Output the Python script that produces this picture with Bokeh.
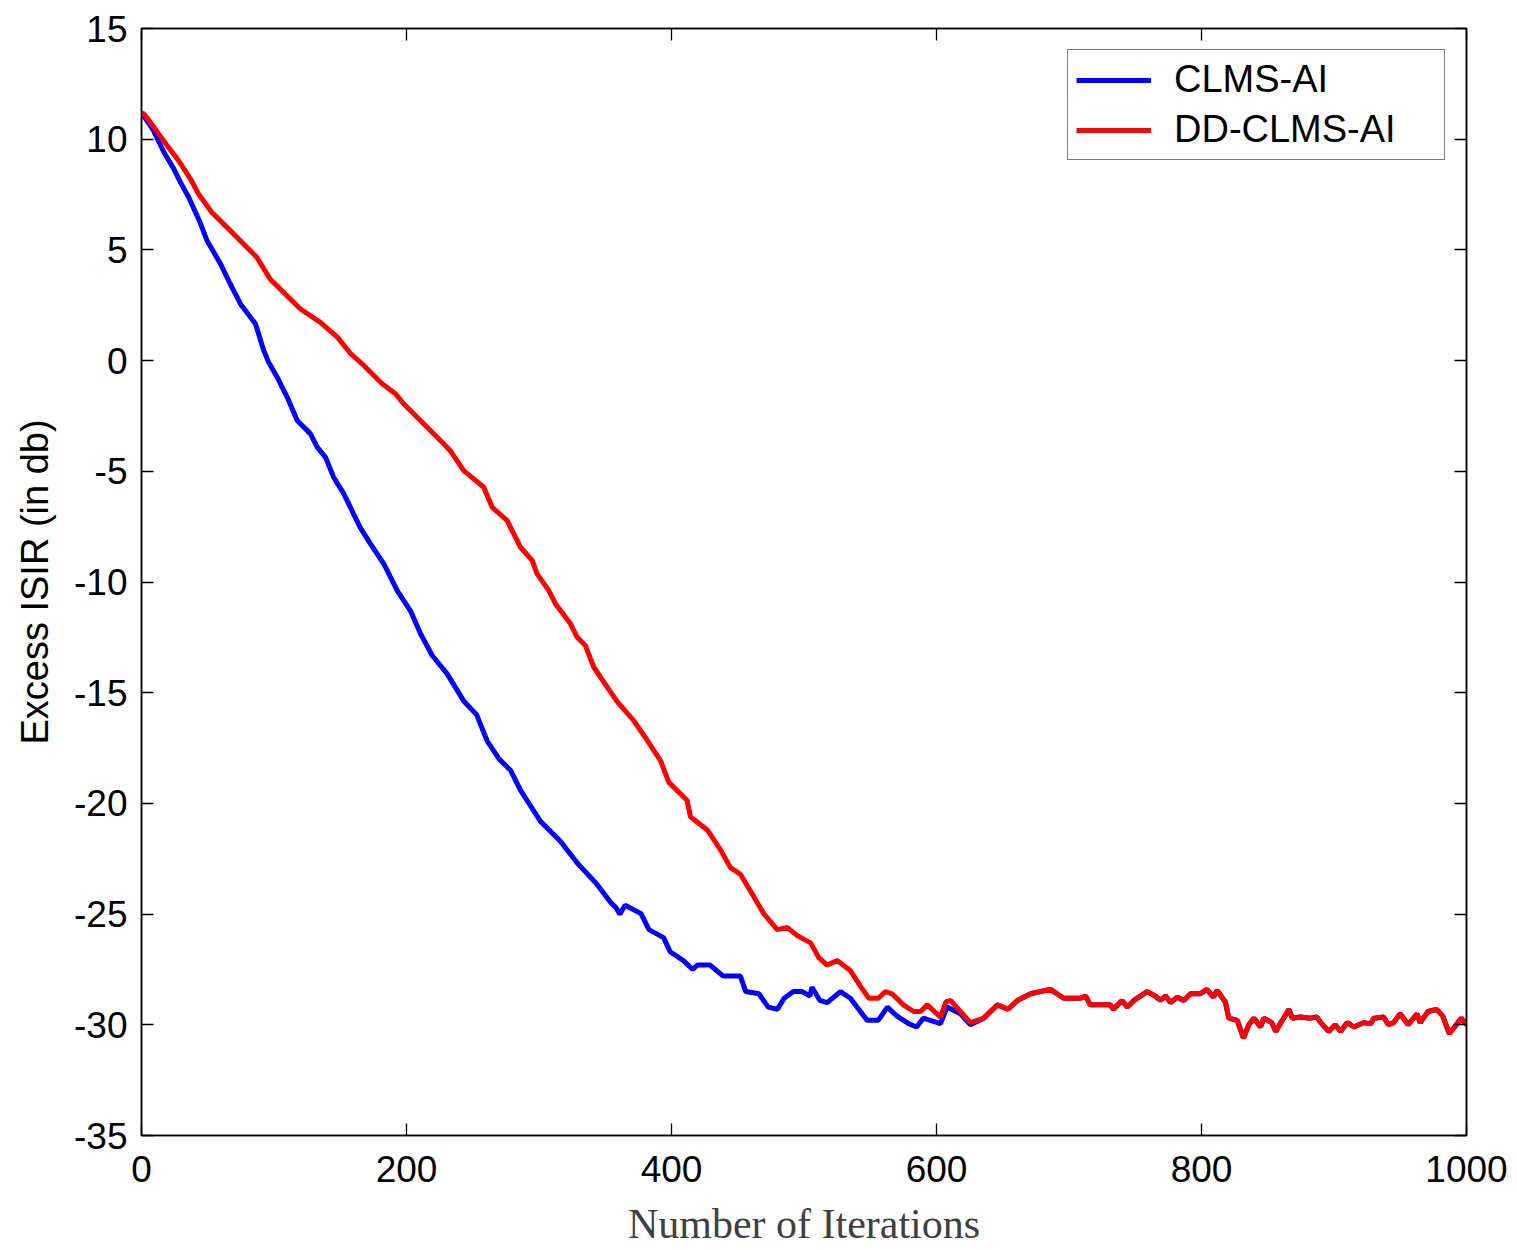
from bokeh.plotting import figure
from bokeh.models import Range1d, LinearAxis, FixedTicker, Legend, LegendItem
from bokeh.embed import file_html
from bokeh.resources import INLINE

# ---- data ----
# CLMS-AI (blue), transient part
clms_x = [0, 1.5, 9, 17, 24, 29.4, 35.6, 44.5, 49.6, 59.6, 67, 74.7, 86, 92.3, 96, 102.4,
          110, 117.5, 127.5, 132.6, 138.9, 145, 152.7, 165, 172.8, 182.9, 193, 203, 210.6,
          219.4, 230.7, 243, 253, 261, 270, 278.5, 286, 292, 301, 316, 329, 343, 354, 358,
          361, 365, 377, 383, 394, 399, 409, 416, 419.6, 429, 439, 452, 456, 466, 473, 480,
          485, 492, 498.6, 504.5, 506, 512, 517.5, 527.5, 535, 540, 547.7, 556, 563, 570,
          579, 585, 590, 603, 608, 618, 625.6]
clms_y = [11.2, 11.07, 10.4, 9.4, 8.7, 8.05, 7.38, 6.2, 5.4, 4.37, 3.46, 2.56, 1.66, 0.45, -0.08,
          -0.75, -1.66, -2.71, -3.31, -3.91, -4.37, -5.27, -6.02, -7.53, -8.28, -9.18, -10.39,
          -11.3, -12.34, -13.32, -14.15, -15.36, -16.0, -17.2, -18.0, -18.5, -19.4, -19.96,
          -20.8, -21.7, -22.7, -23.6, -24.47, -24.7, -25.0, -24.6, -24.98, -25.7, -26.06,
          -26.7, -27.1, -27.5, -27.3, -27.3, -27.8, -27.8, -28.5, -28.6, -29.2, -29.3, -28.8,
          -28.5, -28.5, -28.7, -28.3, -28.9, -29.0, -28.5, -28.8, -29.2, -29.8, -29.8, -29.2,
          -29.6, -29.95, -30.1, -29.7, -29.95, -29.2, -29.5, -30.0]

# DD-CLMS-AI (red), transient part
dd_x = [0, 1.8, 6.8, 13, 19.4, 28, 37, 43, 53, 67, 87, 97, 120, 135, 148, 158, 168, 181.6,
        191.7, 198, 228, 233, 243.2, 258.3, 264.7, 276, 286, 294.9, 298.6, 307.4, 312.5,
        323.8, 328.8, 335, 341.4, 351.5, 359, 371.5, 380, 391.7, 398, 411.8, 414.3, 427,
        437, 444.5, 452, 462, 469.7, 479.8, 487.3, 494.9, 505, 511, 517.5, 525, 535, 543,
        549, 556, 561.5, 566.5, 575, 582.7, 588, 593, 603, 607, 610.6, 618, 625.6]
dd_y = [11.2, 11.14, 10.76, 10.24, 9.71, 9.03, 8.2, 7.53, 6.7, 5.87, 4.67, 3.69, 2.33, 1.73,
        1.05, 0.3, -0.23, -1.05, -1.5, -1.96, -3.76, -4.07, -4.97, -5.72, -6.63, -7.23, -8.43,
        -9.03, -9.63, -10.39, -10.99, -11.89, -12.5, -12.87, -13.85, -14.75, -15.4, -16.26,
        -17.0, -18.07, -19.05, -19.87, -20.6, -21.2, -22.1, -22.9, -23.2, -24.2, -24.99,
        -25.7, -25.6, -25.97, -26.3, -26.95, -27.3, -27.1, -27.55, -28.3, -28.8, -28.8,
        -28.5, -28.6, -29.1, -29.4, -29.4, -29.1, -29.65, -28.97, -28.9, -29.4, -29.9]

# steady-state part, where both curves coincide
tail_x = [635.6, 646, 654, 661, 671, 686, 696, 708.7, 712.5, 716, 731, 733.6, 740, 744, 749,
          759, 765, 769, 773, 776.6, 781.6, 786.6, 791.7, 799, 804, 809, 811.8, 818, 820.6,
          827, 831.7, 835.7, 839.6, 844.5, 847, 853, 856, 860, 866, 868.5, 874.7, 882, 887,
          890, 896, 901, 905, 910, 915, 922.6, 927.5, 930, 937.5, 941, 945, 950, 956, 962.6,
          965, 971, 977.5, 982, 987, 991, 996, 1000]
tail_y = [-29.7, -29.1, -29.3, -28.9, -28.6, -28.4, -28.8, -28.8, -28.7, -29.1, -29.1, -29.3,
          -28.9, -29.2, -28.9, -28.5, -28.7, -28.9, -28.7, -29.0, -28.75, -28.9, -28.6, -28.6,
          -28.4, -28.75, -28.45, -28.97, -29.7, -29.8, -30.6, -30.0, -29.7, -30.1, -29.7,
          -29.9, -30.3, -29.9, -29.3, -29.7, -29.65, -29.7, -29.65, -29.9, -30.3, -30.0,
          -30.3, -29.9, -30.1, -29.9, -29.96, -29.7, -29.65, -30.0, -29.9, -29.5, -30.0,
          -29.5, -29.9, -29.4, -29.3, -29.6, -30.4, -30.1, -29.7, -30.0]

x_ticks = [0, 200, 400, 600, 800, 1000]
y_ticks = [15, 10, 5, 0, -5, -10, -15, -20, -25, -30, -35]
series_names = ["CLMS-AI", "DD-CLMS-AI"]
series_colors = ["#0000ff", "#ff0000"]

SANS = "Liberation Sans"
SERIF = "Liberation Serif"

p = figure(width=1510, height=1249, output_backend="svg", toolbar_location=None,
           x_range=Range1d(0, 1000), y_range=Range1d(-35, 15),
           min_border_left=141, min_border_right=44, min_border_top=28, min_border_bottom=114)
p.background_fill_color = "white"
p.border_fill_color = "white"
p.xgrid.visible = False
p.ygrid.visible = False
p.outline_line_color = "black"
p.outline_line_width = 1.5

r1 = p.line(clms_x + tail_x, clms_y + tail_y, line_color=series_colors[0], line_width=5)
r2 = p.line(dd_x + tail_x, dd_y + tail_y, line_color=series_colors[1], line_width=5)

def style_axis(ax, ticks, labels=True):
    ax.ticker = FixedTicker(ticks=ticks)
    ax.major_tick_in = 12
    ax.major_tick_out = 0
    ax.minor_tick_in = 0
    ax.minor_tick_out = 0
    ax.major_tick_line_color = "black"
    ax.major_tick_line_width = 1.3
    ax.axis_line_color = "black"
    ax.axis_line_width = 1.5
    if labels:
        ax.major_label_text_font = SANS
        ax.major_label_text_font_size = "37px"
        ax.major_label_text_color = "black"
        ax.major_label_overrides = {t: str(t) for t in ticks}
    else:
        ax.major_label_text_font_size = "0px"
        ax.major_label_standoff = 0

xa = p.xaxis[0]
style_axis(xa, x_ticks)
xa.major_label_standoff = 20
xa.axis_label = "Number of Iterations"
xa.axis_label_text_font = SERIF
xa.axis_label_text_font_style = "normal"
xa.axis_label_text_font_size = "42px"
xa.axis_label_text_color = "#404040"
xa.axis_label_standoff = 16

ya = p.yaxis[0]
style_axis(ya, y_ticks)
ya.major_label_standoff = 14
ya.axis_label = "Excess ISIR (in db)"
ya.axis_label_text_font = SANS
ya.axis_label_text_font_style = "normal"
ya.axis_label_text_font_size = "38px"
ya.axis_label_text_color = "black"
ya.axis_label_standoff = 15

top = LinearAxis()
style_axis(top, x_ticks, labels=False)
p.add_layout(top, "above")
right = LinearAxis()
style_axis(right, y_ticks, labels=False)
p.add_layout(right, "right")

legend = Legend(items=[LegendItem(label=series_names[0], renderers=[r1]),
                       LegendItem(label=series_names[1], renderers=[r2])],
                location="top_right")
legend.label_text_font = SANS
legend.label_text_font_size = "38px"
legend.label_text_color = "black"
legend.glyph_width = 75
legend.glyph_height = 36
legend.label_height = 36
legend.label_width = 262
legend.label_standoff = 23
legend.spacing = 7
legend.padding = 8
legend.margin = 21
legend.border_line_color = "black"
legend.border_line_width = 1.5
legend.background_fill_color = "white"
legend.background_fill_alpha = 1
p.add_layout(legend)

open("out.html", "w").write(file_html(p, INLINE))
